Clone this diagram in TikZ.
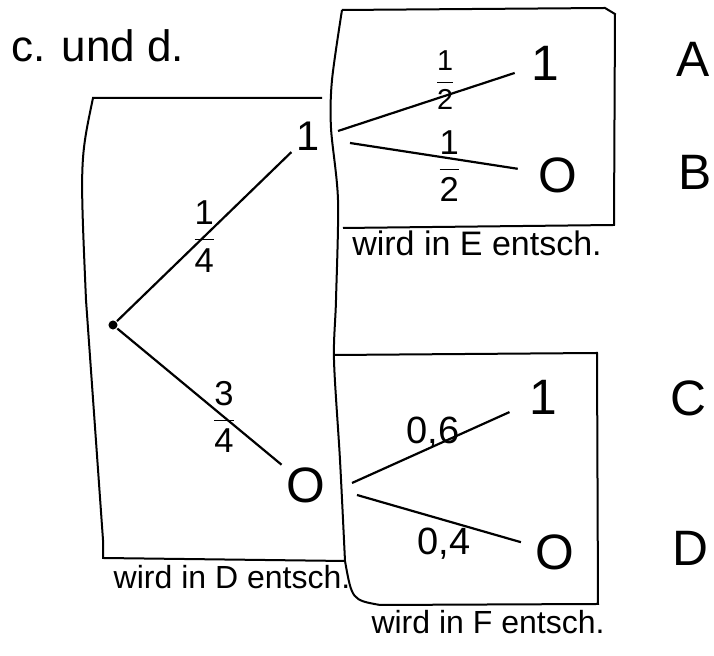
\documentclass[tikz,border=0pt]{standalone}
\usepackage{fontspec}
\setmainfont{Liberation Sans}
\usepackage{amsmath}

\begin{document}
\begin{tikzpicture}[x=0.5pt,y=-0.5pt,line width=1.1pt,
ausgang/.style={font=\Huge,inner sep=2pt},
ereignis/.style={font=\Huge},
bruch/.style={font=\LARGE,inner sep=0pt},
wahl/.style={font=\fontsize{19}{22}\selectfont,inner sep=1pt},
entsch/.style={font=\fontsize{16}{19}\selectfont},
kasten/.style={line width=1pt}]
\useasboundingbox (0,0) rectangle (714,656);

\node[font=\fontsize{22}{26}\selectfont,anchor=base west,inner sep=0pt] (titel) at (10,62) {c. und d.};

% Kaesten
\draw[kasten] (322,98) -- (93,98) .. controls (80,160) .. (86,300) -- (103,540) -- (103,558) -- (345,561);
\draw[kasten] plot[smooth] coordinates {(342,10) (332,80) (331,128) (338,200) (336,300) (334,360) (340,460) (345,561)};
\draw[kasten] (342,10) -- (605,8) -- (615,14) -- (614,225) -- (343,228);
\draw[kasten] (335,355) -- (597,353) -- (598,604) -- (380,605) .. controls (352,600) .. (345,561);

\node[entsch] (labD) at (232,577) {wird in D entsch.};
\node[entsch,font=\fontsize{17}{20}\selectfont] (labE) at (477,243) {wird in E entsch.};
\node[entsch] (labF) at (488,622) {wird in F entsch.};

% Baum
\node[circle,fill,inner sep=1.6pt] (wurzel) at (113,325) {};
\node[ausgang,font=\huge] (d1) at (308,136) {1};
\node[ausgang] (d0) at (306,485) {O};
\draw (wurzel) -- (d1) node[bruch,pos=0.5] {$\dfrac{\text{1}}{\text{4}}$};
\draw (wurzel) -- (d0) node[bruch,pos=0.65] {$\dfrac{\text{3}}{\text{4}}$};

\coordinate (eA) at (338,131);
\coordinate (eB) at (350,143);
\node[ausgang] (e1) at (545,63) {1};
\node[ausgang] (e0) at (558,175) {O};
\draw[shorten >=6pt] (eA) -- (e1) node[bruch,font=\Large,pos=0.57,yshift=8pt] {$\dfrac{\text{1}}{\text{2}}$};
\draw[shorten >=8pt] (eB) -- (e0) node[bruch,pos=0.54,yshift=-4pt] {$\dfrac{\text{1}}{\text{2}}$};

\coordinate (fA) at (352,483);
\coordinate (fB) at (357,495);
\node[ausgang] (f1) at (543,397) {1};
\node[ausgang] (f0) at (555,552) {O};
\draw[shorten >=8pt] (fA) -- (f1) node[wahl,pos=0.47,yshift=7pt] {0,6};
\draw[shorten >=5pt] (fB) -- (f0) node[wahl,pos=0.5,yshift=-12pt] {0,4};

\node[ereignis] (A) at (693,59) {A};
\node[ereignis] (B) at (695,172) {B};
\node[ereignis] (C) at (688,398) {C};
\node[ereignis] (D) at (690,548) {D};
\end{tikzpicture}
\end{document}
